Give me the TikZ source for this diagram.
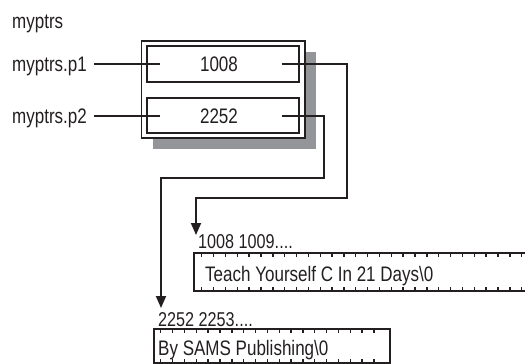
\documentclass[tikz,border=0pt]{standalone}
\usepackage{fontspec}
\setmainfont{Liberation Sans}[FakeStretch=0.81]
\usepackage{xcolor}
\usepackage{tikz}
\usetikzlibrary{arrows.meta}
\definecolor{mpInk}{HTML}{231F20}
\definecolor{mpShade}{HTML}{939598}

\begin{document}
\begin{tikzpicture}[
    x=1pt, y=-1pt,
    >={Triangle[length=12pt, width=10pt]},
    txt/.style={inner sep=0pt, anchor=base west, font=\fontsize{21}{25}\selectfont, text=mpInk},
    val/.style={txt, anchor=base},
    addr/.style={txt, font=\fontsize{20}{24}\selectfont},
    member/.style={draw=mpInk, line width=1.8pt, fill=white, minimum width=152pt, inner sep=0pt},
    frame/.style={draw=mpInk, line width=1.8pt},
    wire/.style={draw=mpInk, line width=1.8pt},
    ptr/.style={wire, ->},
    tick/.style={draw=mpInk, line width=1.4pt},
]

\useasboundingbox (0,0) rectangle (525,364);

% ---- The structure myptrs ----
\node[txt] (title) at (12,28) {myptrs};

\fill[mpShade] (153,52) rectangle (316,149);
\draw[frame, fill=white] (141.5,41) rectangle (305,138);
\node[member, minimum height=36pt] (box1) at (223,64) {};
\node[member, minimum height=35pt] (box2) at (223,115.5) {};

\node[val] (v1) at (219,71) {1008};
\node[val] (v2) at (219,123) {2252};

% Member names
\node[txt] (p1) at (12,71) {myptrs.p1};
\node[txt] (p2) at (12,123) {myptrs.p2};
\coordinate (p1in) at (160,64);
\coordinate (p2in) at (160,116);
\draw[wire] ([xshift=7pt]p1.east |- p1in) -- (p1in);
\draw[wire] ([xshift=7pt]p2.east |- p2in) -- (p2in);

% ---- Pointers to the strings ----
\coordinate (s1) at (281.7,64);
\coordinate (s2) at (281.7,116);
\coordinate (tip1) at (196,235);
\coordinate (tip2) at (161,308);
\draw[ptr] (s1) -| (347,198) -| (tip1);
\draw[ptr] (s2) -| (324,178) -| (tip2);

% ---- First string ----
\node[addr] (a1) at (198,248.5) {1008 1009....};
\draw[frame] (530,253) -- (194,253) -- (194,291) -- (530,291);
\foreach \k in {0,...,27}
  \draw[tick] (201.7+11.85*\k,253) -- ++(0,4) (201.7+11.85*\k,291) -- ++(0,-4);
\node[txt] (str1) at (205,281) {Teach Yourself C In 21 Days\textbackslash 0};

% ---- Second string ----
\node[addr] (a2) at (158,326) {2252 2253....};
\draw[frame] (154,329) rectangle (390,363);
\foreach \k in {0,...,18}
  \draw[tick] (160.7+11.85*\k,329) -- ++(0,4) (160.7+11.85*\k,363) -- ++(0,-4);
\node[txt] (str2) at (158,355) {By SAMS Publishing\textbackslash 0};

\end{tikzpicture}
\end{document}
